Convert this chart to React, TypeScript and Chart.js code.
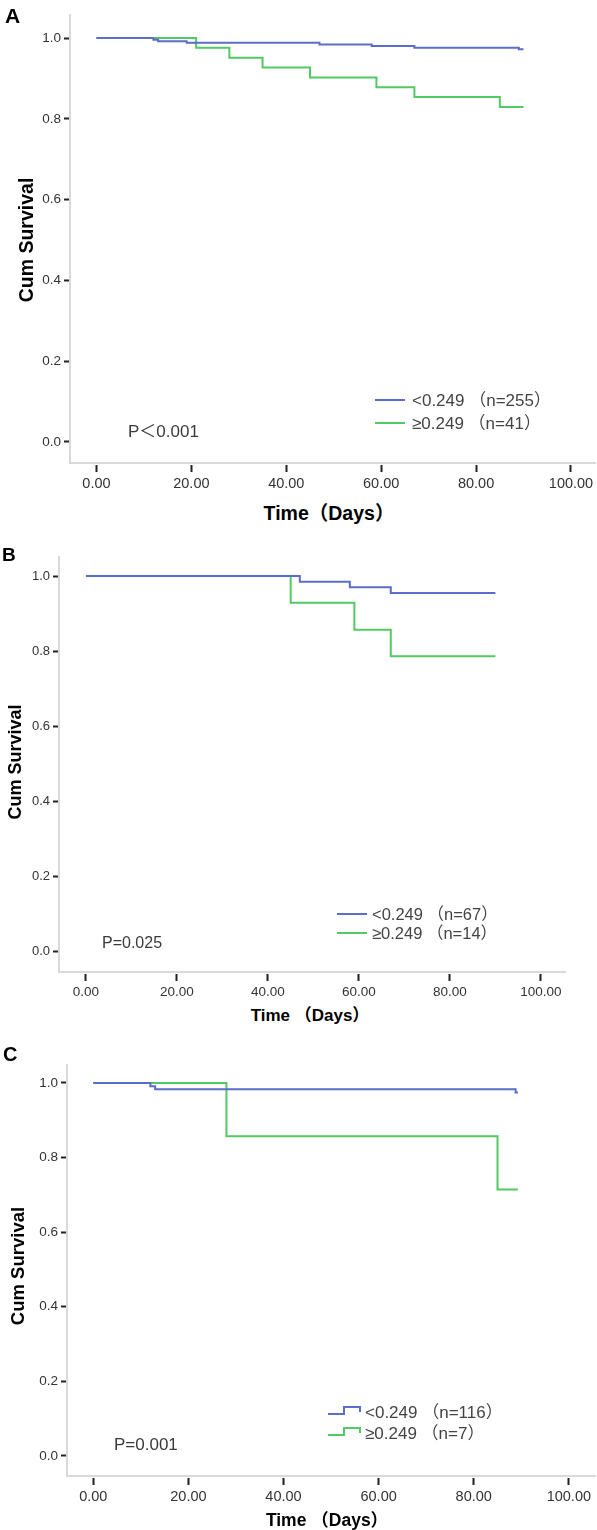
import React, { useEffect, useRef } from "react";
import { Chart, registerables } from "chart.js";

Chart.register(...registerables);

// ---------- data ----------
const xTickValues = [0, 20, 40, 60, 80, 100];
const yTickValues = [0, 0.2, 0.4, 0.6, 0.8, 1.0];

const xTitle = "Time（Days）";
const xTitleSpaced = "Time （Days）";
const yTitle = "Cum Survival";

// Panel A
const aLowTimes = [0, 12, 13, 19, 47, 58, 67, 89, 90];
const aLowSurv = [1, 0.996, 0.992, 0.988, 0.984, 0.98, 0.976, 0.972, 0.972];
const aHighTimes = [0, 21, 28, 35, 45, 59, 67, 85, 90];
const aHighSurv = [1, 0.976, 0.951, 0.927, 0.902, 0.878, 0.854, 0.829, 0.829];
const aLegend = ["<0.249 （n=255）", "≥0.249 （n=41）"];
const aPValue = "P＜0.001";

// Panel B
const bLowTimes = [0, 47, 58, 67, 90];
const bLowSurv = [1, 0.985, 0.97, 0.955, 0.955];
const bHighTimes = [0, 45, 59, 67, 90];
const bHighSurv = [1, 0.929, 0.857, 0.786, 0.786];
const bLegend = ["<0.249 （n=67）", "≥0.249 （n=14）"];
const bPValue = "P=0.025";

// Panel C
const cLowTimes = [0, 12, 13, 88.8, 89.3];
const cLowSurv = [1, 0.991, 0.983, 0.974, 0.974];
const cHighTimes = [0, 28, 85, 89.3];
const cHighSurv = [1, 0.857, 0.714, 0.714];
const cLegend = ["<0.249 （n=116）", "≥0.249 （n=7）"];
const cPValue = "P=0.001";

// ---------- styles ----------
const W = 597;
const BLUE = "#5a6dc8";
const GREEN = "#52c964";
const SANS = "'Liberation Sans', Arial, 'Noto Sans CJK SC', sans-serif";

type Series = { times: number[]; surv: number[]; color: string };
type Area = { left: number; top: number; right: number; bottom: number };

function KMChart(props: {
  top: number;
  height: number;
  area: Area;
  xRange: [number, number];
  yRange: [number, number];
  series: Series[];
  xFont: number;
  yFont: number;
}) {
  const ref = useRef<HTMLCanvasElement>(null);
  useEffect(() => {
    const canvas = ref.current!;
    const { area, height } = props;
    const chart = new Chart(canvas, {
      type: "line",
      data: {
        datasets: props.series.map((s) => ({
          data: s.times.map((t, i) => ({ x: t, y: s.surv[i] })),
          borderColor: s.color,
          borderWidth: 2,
          pointRadius: 0,
          stepped: true,
          fill: false,
          tension: 0,
        })),
      },
      options: {
        animation: false,
        responsive: false,
        maintainAspectRatio: false,
        devicePixelRatio: 1,
        events: [],
        layout: {
          autoPadding: false,
          padding: { left: 0, top: area.top, right: W - area.right, bottom: 0 },
        },
        plugins: {
          legend: { display: false },
          tooltip: { enabled: false },
          title: { display: false },
        },
        scales: {
          x: {
            type: "linear",
            min: props.xRange[0],
            max: props.xRange[1],
            afterFit: (s: any) => {
              s.height = height - area.bottom;
            },
            afterBuildTicks: (s: any) => {
              s.ticks = xTickValues.map((v) => ({ value: v }));
            },
            ticks: {
              callback: (v: any) => Number(v).toFixed(2),
              font: { family: SANS, size: props.xFont },
              color: "#333333",
              padding: 3,
              maxRotation: 0,
              autoSkip: false,
            },
            grid: {
              display: true,
              drawOnChartArea: false,
              drawTicks: true,
              tickLength: 9,
              tickColor: "#222222",
              tickWidth: 2,
              tickBorderDash: [0, 1, 10],
            },
            border: { display: true, color: "#d9d9d9", width: 2 },
          },
          y: {
            type: "linear",
            min: props.yRange[0],
            max: props.yRange[1],
            afterFit: (s: any) => {
              s.width = area.left;
            },
            afterBuildTicks: (s: any) => {
              s.ticks = yTickValues.map((v) => ({ value: v }));
            },
            ticks: {
              callback: (v: any) => Number(v).toFixed(1),
              font: { family: SANS, size: props.yFont },
              color: "#333333",
              padding: 3,
              autoSkip: false,
            },
            grid: {
              display: true,
              drawOnChartArea: false,
              drawTicks: true,
              tickLength: 6,
              tickColor: "#222222",
              tickWidth: 2,
            },
            border: { display: true, color: "#d9d9d9", width: 2 },
          },
        },
      } as any,
    });
    return () => chart.destroy();
  }, []);
  return (
    <canvas
      ref={ref}
      width={W}
      height={props.height}
      style={{ position: "absolute", left: 0, top: props.top, width: W, height: props.height }}
    />
  );
}

function Txt(props: {
  x: number;
  y: number;
  text: string;
  size: number;
  bold?: boolean;
  center?: boolean;
  rotate?: boolean;
  color?: string;
}) {
  const tx = props.center || props.rotate ? "-50%" : "0";
  return (
    <div
      style={{
        position: "absolute",
        left: props.x,
        top: props.y,
        transform: `translate(${tx}, -50%)${props.rotate ? " rotate(-90deg)" : ""}`,
        fontFamily: SANS,
        fontSize: props.size,
        fontWeight: props.bold ? 700 : 400,
        color: props.color || "#333",
        whiteSpace: "nowrap",
        lineHeight: 1,
      }}
    >
      {props.text}
    </div>
  );
}

function LineIcon(props: { x: number; y: number; w: number; color: string }) {
  return (
    <div
      style={{
        position: "absolute",
        left: props.x,
        top: props.y - 1,
        width: props.w,
        height: 2,
        background: props.color,
      }}
    />
  );
}

function StepIcon(props: { x: number; y: number; color: string }) {
  return (
    <svg
      width={34}
      height={12}
      style={{ position: "absolute", left: props.x, top: props.y - 8 }}
    >
      <path d="M0 10 H16 V3 H32 V8" fill="none" stroke={props.color} strokeWidth={2} />
    </svg>
  );
}

export default function App() {
  return (
    <div
      style={{
        position: "absolute",
        left: 0,
        top: 0,
        width: W,
        height: 1530,
        background: "#fff",
        overflow: "hidden",
      }}
    >
      {/* Panel A */}
      <KMChart
        top={0}
        height={500}
        area={{ left: 70, top: 15, right: 595, bottom: 463 }}
        xRange={[-5.58, 105.06]}
        yRange={[-0.052, 1.057]}
        series={[
          { times: aLowTimes, surv: aLowSurv, color: BLUE },
          { times: aHighTimes, surv: aHighSurv, color: GREEN },
        ]}
        xFont={14.5}
        yFont={13.5}
      />
      <Txt x={5} y={15} text="A" size={21} bold color="#000" />
      <Txt x={27} y={240} text={yTitle} size={19.5} bold rotate color="#000" />
      <Txt x={329} y={514} text={xTitle} size={19.5} bold center color="#000" />
      <Txt x={128} y={431} text={aPValue} size={17} color="#3a3a3a" />
      <LineIcon x={375} y={400} w={30} color={BLUE} />
      <LineIcon x={375} y={423} w={30} color={GREEN} />
      <Txt x={412} y={400} text={aLegend[0]} size={17} color="#444" />
      <Txt x={412} y={423} text={aLegend[1]} size={17} color="#444" />

      {/* Panel B */}
      <KMChart
        top={540}
        height={460}
        area={{ left: 59, top: 17, right: 565, bottom: 432 }}
        xRange={[-5.93, 105.3]}
        yRange={[-0.056, 1.051]}
        series={[
          { times: bLowTimes, surv: bLowSurv, color: BLUE },
          { times: bHighTimes, surv: bHighSurv, color: GREEN },
        ]}
        xFont={13.5}
        yFont={13}
      />
      <Txt x={2} y={554} text="B" size={19} bold color="#000" />
      <Txt x={15} y={762} text={yTitle} size={18} bold rotate color="#000" />
      <Txt x={310} y={1015} text={xTitleSpaced} size={17} bold center color="#000" />
      <Txt x={102} y={943} text={bPValue} size={16} color="#3a3a3a" />
      <LineIcon x={337} y={914} w={30} color={BLUE} />
      <LineIcon x={337} y={933} w={30} color={GREEN} />
      <Txt x={372} y={914} text={bLegend[0]} size={16.5} color="#444" />
      <Txt x={372} y={933} text={bLegend[1]} size={16.5} color="#444" />

      {/* Panel C */}
      <KMChart
        top={1045}
        height={470}
        area={{ left: 67, top: 20, right: 595, bottom: 431 }}
        xRange={[-5.53, 105.5]}
        yRange={[-0.054, 1.048]}
        series={[
          { times: cLowTimes, surv: cLowSurv, color: BLUE },
          { times: cHighTimes, surv: cHighSurv, color: GREEN },
        ]}
        xFont={14.5}
        yFont={13.5}
      />
      <Txt x={3} y={1054} text="C" size={20} bold color="#000" />
      <Txt x={18} y={1266} text={yTitle} size={18.5} bold rotate color="#000" />
      <Txt x={327} y={1521} text={xTitleSpaced} size={17.5} bold center color="#000" />
      <Txt x={114} y={1444} text={cPValue} size={17} color="#3a3a3a" />
      <StepIcon x={328} y={1412} color={BLUE} />
      <StepIcon x={328} y={1433} color={GREEN} />
      <Txt x={365} y={1412} text={cLegend[0]} size={17} color="#444" />
      <Txt x={365} y={1433} text={cLegend[1]} size={17} color="#444" />
    </div>
  );
}
